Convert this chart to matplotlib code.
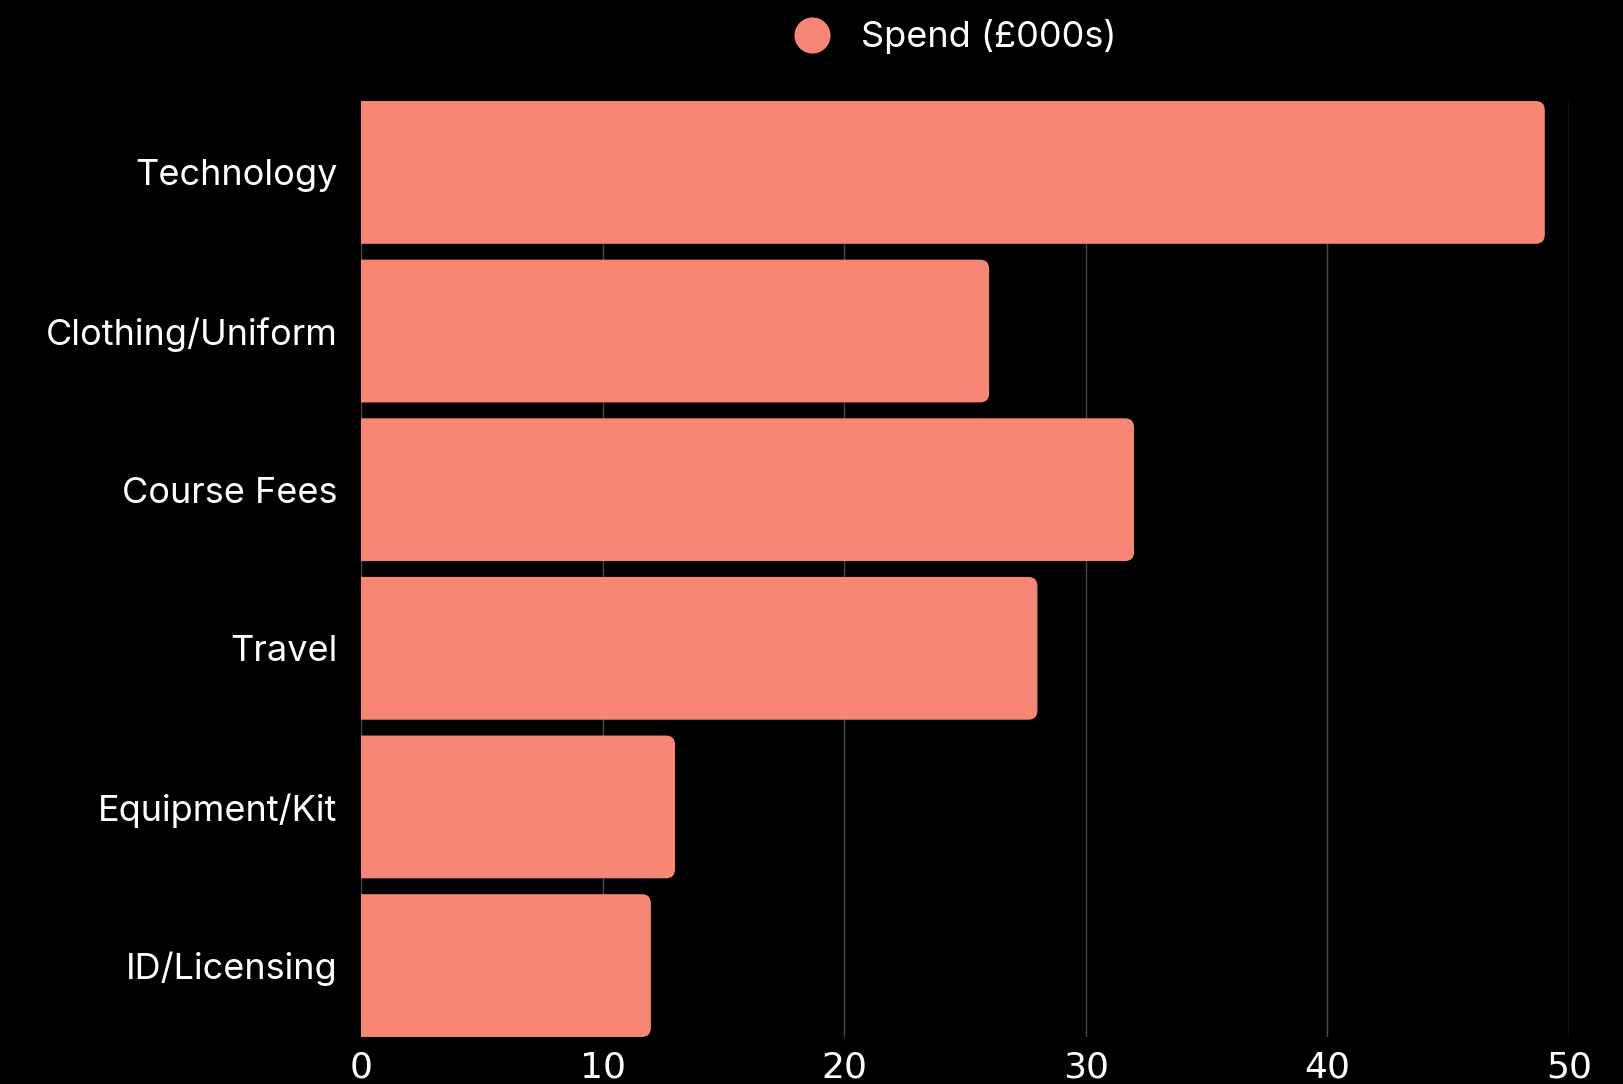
import matplotlib
matplotlib.use('agg')
import matplotlib.pyplot as plt
from matplotlib.patches import FancyBboxPatch
from matplotlib.lines import Line2D

categories = ["Technology", "Clothing/Uniform", "Course Fees", "Travel", "Equipment/Kit", "ID/Licensing"]
spend = [49, 26, 32, 28, 13, 12]
xticks = [0, 10, 20, 30, 40, 50]
series_name = "Spend (£000s)"

bar_color = "#f88674"
plt.rcParams['font.family'] = ['Inter', 'DejaVu Sans']

fig = plt.figure(figsize=(16.23, 10.84), dpi=100, facecolor='black')
ax = fig.add_axes([0.2224, 0.0434, 0.7443, 0.8634])
ax.set_facecolor('black')

ax.set_xlim(0, 50)
ax.set_ylim(len(categories) - 0.55, -0.45)

# px per data unit, for rounded corners
px_x = 0.7443 * 1623 / 50
px_y = 0.8634 * 1084 / 6
r = 9 / px_x
h = 0.9
for i, v in enumerate(spend):
    p = FancyBboxPatch((-2, i - h / 2), v + 2, h,
                       boxstyle="round,pad=0,rounding_size=%f" % r,
                       mutation_aspect=(px_x / px_y),
                       facecolor=bar_color, edgecolor='none', zorder=3)
    ax.add_patch(p)

ax.set_xticks(xticks)
ax.grid(axis='x', color='#4a4a4a', linewidth=1.0, zorder=0)
ax.set_yticks(range(len(categories)))
ax.set_yticklabels(categories, color='white', fontsize=26)
ax.tick_params(axis='y', length=0, pad=17)
ax.tick_params(axis='x', length=0, pad=10, labelcolor='white', labelsize=26)
for lab in ax.get_xticklabels():
    lab.set_family(['Liberation Sans Narrow', 'DejaVu Sans'])
for s in ax.spines.values():
    s.set_visible(False)

handle = Line2D([], [], marker='o', linestyle='none', markersize=26,
                markerfacecolor=bar_color, markeredgecolor='none')
leg = fig.legend([handle], [series_name], loc='upper center',
                 bbox_to_anchor=(0.583, 1.012), frameon=False,
                 fontsize=26, handletextpad=0.35, labelcolor='white')

fig.savefig('out.png', facecolor='black')
